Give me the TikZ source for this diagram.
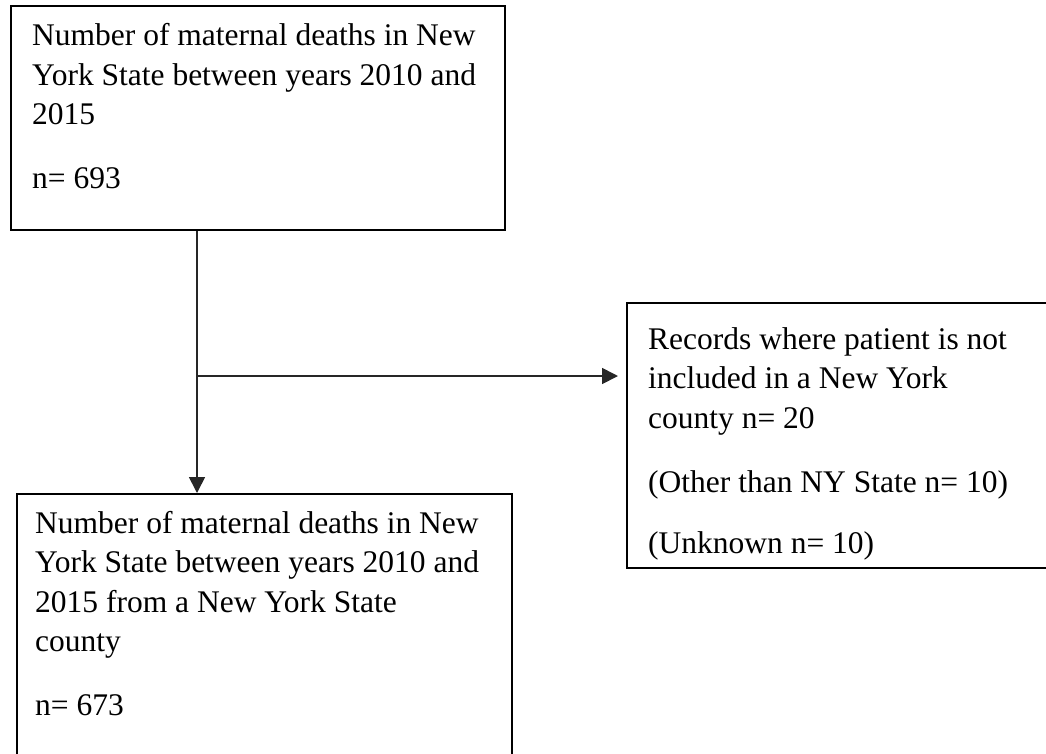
\documentclass[tikz,border=0pt]{standalone}
\usepackage{fontspec}
\setmainfont{Liberation Serif}
\usetikzlibrary{arrows.meta}
\begin{document}
\begin{tikzpicture}[x=1pt,y=-1pt,
  box/.style={draw=black, line width=2.2pt, inner sep=0pt, anchor=north west},
  txt/.style={anchor=base west, align=left, inner sep=0pt, font=\fontsize{31.5}{39.5}\selectfont},
  conn/.style={draw=black!85, line width=1.7pt},
  arr/.style={conn, -{Triangle[length=16pt,width=16pt]}}]
\useasboundingbox (0,0) rectangle (1046,753);
\clip (0,0) rectangle (1046,753);
\node[box, minimum width=494pt, minimum height=224pt] (top) at (10,5) {};
\node[box, minimum width=495pt, minimum height=300pt] (bot) at (16,493) {};
\node[box, minimum width=450pt, minimum height=265pt] (side) at (626,302) {};
% base anchor = baseline of the last line
\node[txt] (toptext) at (32,188) {Number of maternal deaths in New\\York State between years 2010 and\\2015\\[24pt]n= 693};
\node[txt] (bottext) at (35,715) {Number of maternal deaths in New\\York State between years 2010 and\\2015 from a New York State\\county\\[24pt]n= 673};
\node[txt] (sidetext) at (648,553) {Records where patient is not\\included in a New York\\county n= 20\\[24.5pt](Other than NY State n= 10)\\[21.5pt](Unknown n= 10)};
\coordinate (vx) at (197,0);
\coordinate (j) at (197,376);
\draw[arr] (top.south -| vx) -- (bot.north -| vx);
\draw[arr] (j) -- ([xshift=-8pt]side.west |- j);
\end{tikzpicture}
\end{document}
